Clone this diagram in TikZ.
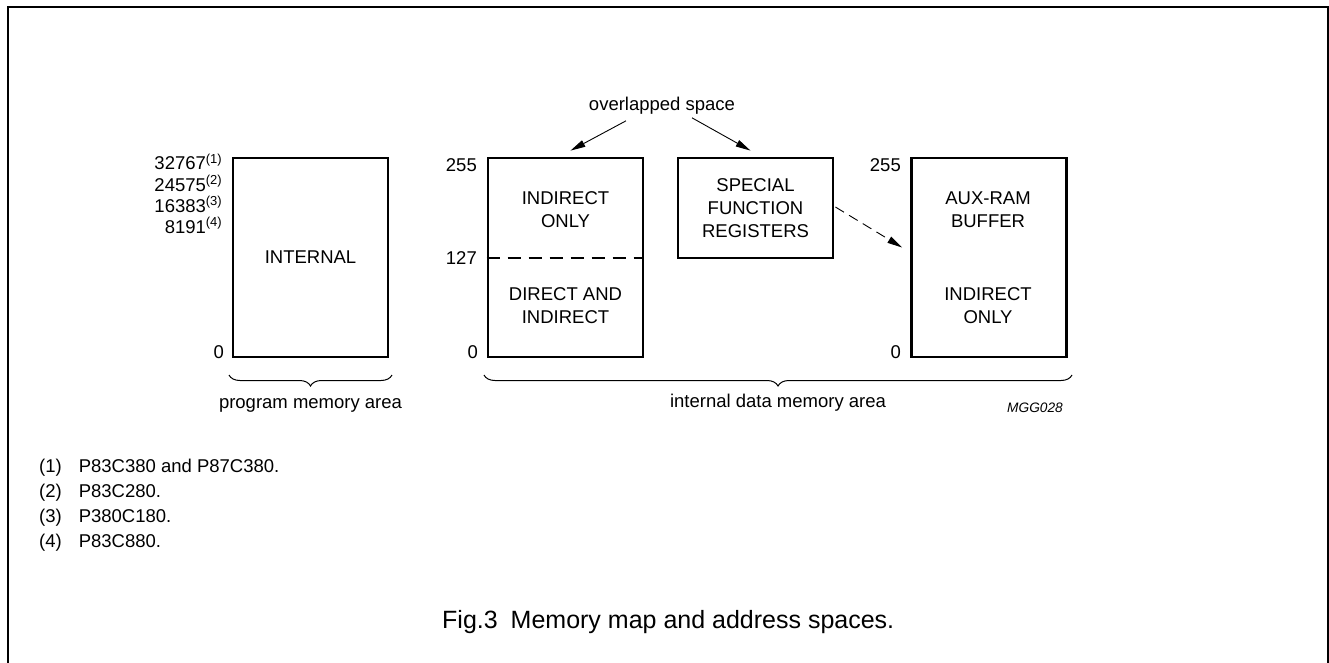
\documentclass[tikz,border=0pt]{standalone}
\usepackage{fontspec}
\setmainfont{Liberation Sans}
\usetikzlibrary{decorations.pathreplacing,arrows.meta,calc}
\newcommand{\supn}[1]{\raisebox{6.5pt}{\fontsize{13}{14}\selectfont(#1)}}
\begin{document}
\begin{tikzpicture}[x=1pt,y=-1pt,
  font=\fontsize{18.5}{23}\selectfont,
  membox/.style={draw, line width=2.8pt, minimum width=155pt, minimum height=199pt, inner sep=0pt},
  txt/.style={align=center, inner sep=0pt},
  lab/.style={anchor=base east, inner sep=0pt},
  arr/.style={line width=0.9pt, -{Triangle[length=15pt,width=7pt]}},
  brc/.style={line width=1pt, decorate, decoration={brace, mirror, amplitude=11pt}},
  fn/.style={anchor=base west, inner sep=0pt}]
\useasboundingbox (0,0) rectangle (1329,662);
\draw[line width=2pt] (8,680) -- (8,7) -- (1328,7) -- (1328,680);

% program memory
\node[membox] (int) at (310.5,257.5) {};
\node[txt] (intt) at (int.center) {INTERNAL};
\node[lab] (a1) at (222,169.5) {32767\supn{1}};
\node[lab] (a2) at (222,191) {24575\supn{2}};
\node[lab] (a3) at (222,212) {16383\supn{3}};
\node[lab] (a4) at (222,233) {8191\supn{4}};
\node[lab] (a0) at (224,358) {0};

% data memory
\node[membox] (db) at (565.5,257.5) {};
\draw[line width=2.8pt, dash pattern=on 13pt off 8pt] (db.west |- 0,258) -- (db.east |- 0,258);
\node[txt] (dbu) at (565.5,209.5) {INDIRECT\\ONLY};
\node[txt] (dbl) at (565.5,306) {DIRECT AND\\INDIRECT};
\node[lab] (d255) at (477,171) {255};
\node[lab] (d127) at (477,264.5) {127};
\node[lab] (d0) at (478,358) {0};

\node[membox, minimum height=100pt] (sfr) at (755.5,208) {};
\node[txt] (sfrt) at (sfr.center) {SPECIAL\\FUNCTION\\REGISTERS};

\node[membox] (aux) at (989,257.5) {};
\node[txt] (auxu) at (988,210) {AUX-RAM\\BUFFER};
\node[txt] (auxl) at (988,306) {INDIRECT\\ONLY};
\node[lab] (x255) at (901,171) {255};
\node[lab] (x0) at (901,358) {0};

% overlapped space
\node[txt] (ov) at (662,106) {overlapped space};
\draw[arr] ($(ov.south)+(-36,6)$) -- ($(db.north)+(5,-6)$);
\draw[arr] ($(ov.south)+(30,3)$) -- ($(sfr.north)+(-5,-6)$);
\draw[line width=0.9pt, dash pattern=on 10pt off 6pt, -{Triangle[length=15pt,width=7pt]}]
  ($(sfr.east)+(1,-1)$) -- ($(aux.west)+(-8,-10)$);

% braces
\coordinate (pb1) at (229,375);
\coordinate (pb2) at (392,375);
\draw[brc] (pb1) -- (pb2);
\node[txt] (pma) at (310.5,405) {program memory area};
\coordinate (db1) at (484,375);
\coordinate (db2) at (1072,375);
\draw[brc] (db1) -- (db2);
\node[txt] (idma) at (778,403) {internal data memory area};
\node[txt, font=\fontsize{13.7}{16}\selectfont\itshape] (mgg) at (1035,408) {MGG028};

% footnotes
\node[fn] (f1) at (39,472) {(1)\hspace{17pt}P83C380 and P87C380.};
\node[fn] (f2) at (39,497) {(2)\hspace{17pt}P83C280.};
\node[fn] (f3) at (39,522) {(3)\hspace{17pt}P380C180.};
\node[fn] (f4) at (39,547) {(4)\hspace{17pt}P83C880.};

% caption
\node[anchor=base west, inner sep=0pt, font=\fontsize{25}{28}\selectfont] (cap) at (442,628) {Fig.3\hspace{6pt} Memory map and address spaces.};
\end{tikzpicture}
\end{document}
